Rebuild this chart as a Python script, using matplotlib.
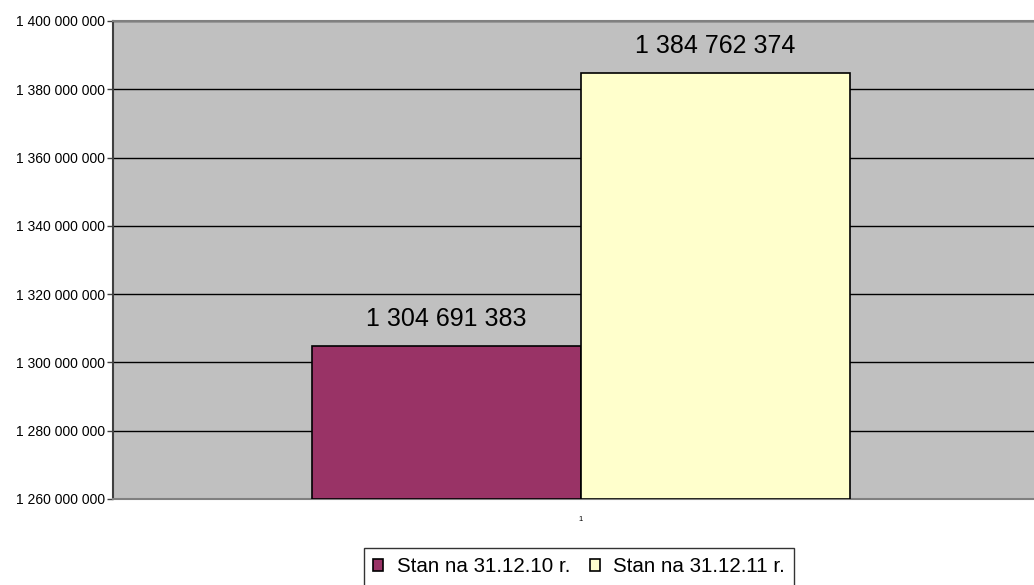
import matplotlib
matplotlib.use("Agg")
import matplotlib.pyplot as plt
from matplotlib.patches import Patch
from matplotlib.ticker import FuncFormatter

plt.rcParams['font.family'] = ['Liberation Sans', 'DejaVu Sans']

series = ["Stan na 31.12.10 r.", "Stan na 31.12.11 r."]
values = [1304691383, 1384762374]
colors = ["#993366", "#FFFFCC"]
category = ["1"]
y_min, y_max, y_step = 1260000000, 1400000000, 20000000

fig = plt.figure(figsize=(10.34, 5.85), dpi=100)
ax = fig.add_axes([113/1034, 1 - 499/585, 1 - 113/1034, (499 - 21)/585])
ax.set_facecolor("#C0C0C0")

bw = 269/921
offsets = [-bw, 0]
for i, (v, c) in enumerate(zip(values, colors)):
    ax.bar(offsets[i], v - y_min, bottom=y_min, width=bw, align='edge',
           color=c, edgecolor='black', linewidth=1.2, zorder=3)
    ax.annotate(f"{v:,}".replace(",", " "), (offsets[i] + bw/2, v),
                xytext=(0, 11), textcoords='offset points',
                ha='center', va='bottom', fontsize=18, zorder=4)

ax.set_xlim(-468/921, 453/921)
ax.set_ylim(y_min, y_max)
ax.set_yticks(range(y_min, y_max + 1, y_step))
ax.yaxis.set_major_formatter(FuncFormatter(lambda v, p: f"{int(v):,}".replace(",", " ")))
ax.tick_params(axis='y', labelsize=10, length=4, width=1, color='#404040', pad=2)
ax.set_xticks([0])
ax.set_xticklabels(category, fontsize=5.5)
ax.tick_params(axis='x', length=0, pad=12)
ax.grid(axis='y', color='black', linewidth=1, zorder=1)
ax.set_axisbelow(True)
for s in ['left', 'top', 'bottom']:
    ax.spines[s].set_color('#808080')
    ax.spines[s].set_linewidth(1.5)
ax.spines['left'].set_color('#404040')
ax.spines['right'].set_visible(False)

handles = [Patch(facecolor=c, edgecolor='black', linewidth=1.2) for c in colors]
leg = fig.legend(handles, series, loc='upper center', bbox_to_anchor=(579/1034, 1 - 548/585),
                 ncol=2, fontsize=14.8, frameon=True, fancybox=False, edgecolor='black',
                 handlelength=0.5, handleheight=0.5, handletextpad=0.65, columnspacing=0.95,
                 borderpad=0.45, borderaxespad=0)
leg.get_frame().set_linewidth(1)

fig.savefig("out.png", dpi=100)
